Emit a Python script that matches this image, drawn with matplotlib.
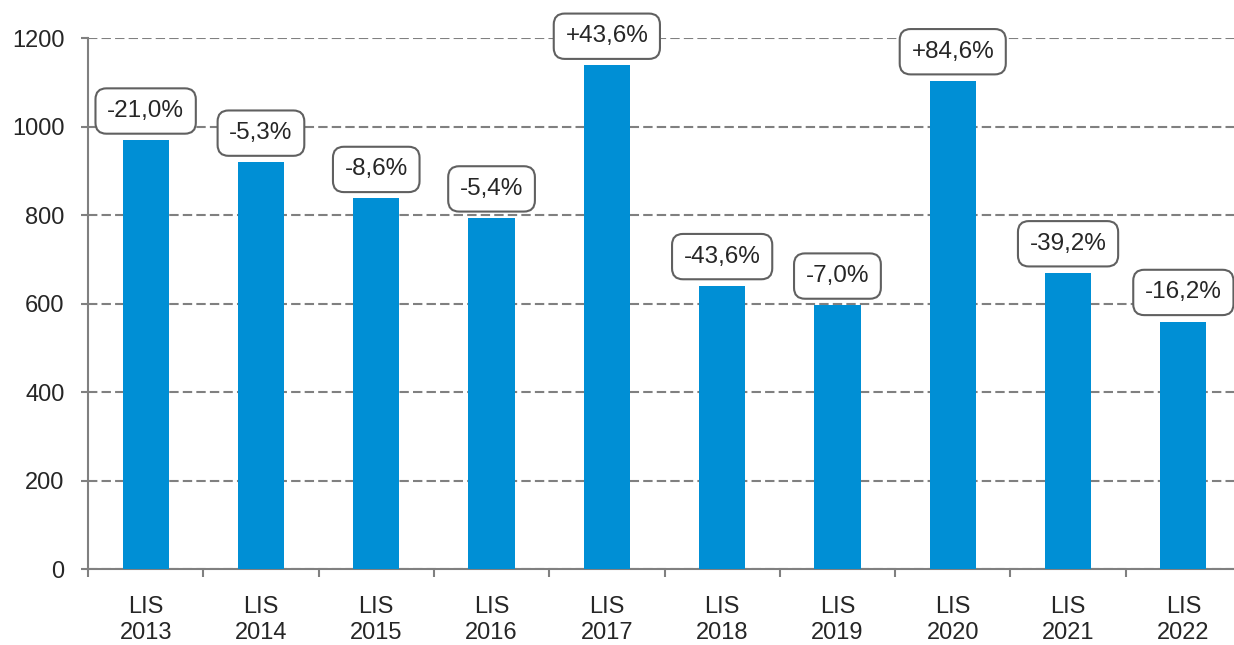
import matplotlib
matplotlib.use("Agg")
import matplotlib.pyplot as plt
import numpy as np

# data
years = ["2013", "2014", "2015", "2016", "2017", "2018", "2019", "2020", "2021", "2022"]
values = [970, 920, 838, 794, 1139, 641, 597, 1104, 670, 560]
changes = ["-21,0%", "-5,3%", "-8,6%", "-5,4%", "+43,6%", "-43,6%", "-7,0%", "+84,6%", "-39,2%", "-16,2%"]

plt.rcParams['font.family'] = ['Liberation Sans', 'DejaVu Sans']

fig = plt.figure(figsize=(12.34, 6.45), dpi=100)
ax = fig.add_axes([88 / 1234, 75.7 / 645, 1153 / 1234, 531 / 645])

xs = np.arange(len(years))
bars = ax.bar(xs, values, width=0.4, color="#008FD5", zorder=3)

for x, v, lab in zip(xs, values, changes):
    ax.annotate(lab, (x, v), xytext=(0, 13), textcoords="offset points",
                ha="center", va="bottom", fontsize=17.5, color="#262626",
                annotation_clip=False, zorder=5,
                bbox=dict(boxstyle="round,pad=0.48,rounding_size=0.45",
                          fc="white", ec="#606060", lw=1.5))

ax.set_xlim(-0.5, len(years) - 0.5)
ax.set_ylim(0, 1200)
ax.set_yticks(range(0, 1201, 200))
ax.set_xticks(xs)
ax.set_xticklabels(["LIS\n" + y for y in years], linespacing=1.25)
ax.set_xticks(np.arange(-0.5, len(years)), minor=True)

ax.grid(axis="y", color="#808080", lw=1.5, ls=(0, (4.5, 2)), zorder=1)
ax.set_axisbelow(True)

for s in ["top", "right"]:
    ax.spines[s].set_visible(False)
for s in ["left", "bottom"]:
    ax.spines[s].set_color("#808080")
    ax.spines[s].set_linewidth(1.5)

ax.tick_params(axis="y", length=5, width=1.5, color="#808080",
               labelsize=17, labelcolor="#262626", pad=12)
ax.tick_params(axis="x", which="major", length=0, labelsize=17,
               labelcolor="#262626", pad=19)
ax.tick_params(axis="x", which="minor", length=6, width=1.5, color="#808080")

fig.savefig("out.png", dpi=100)
